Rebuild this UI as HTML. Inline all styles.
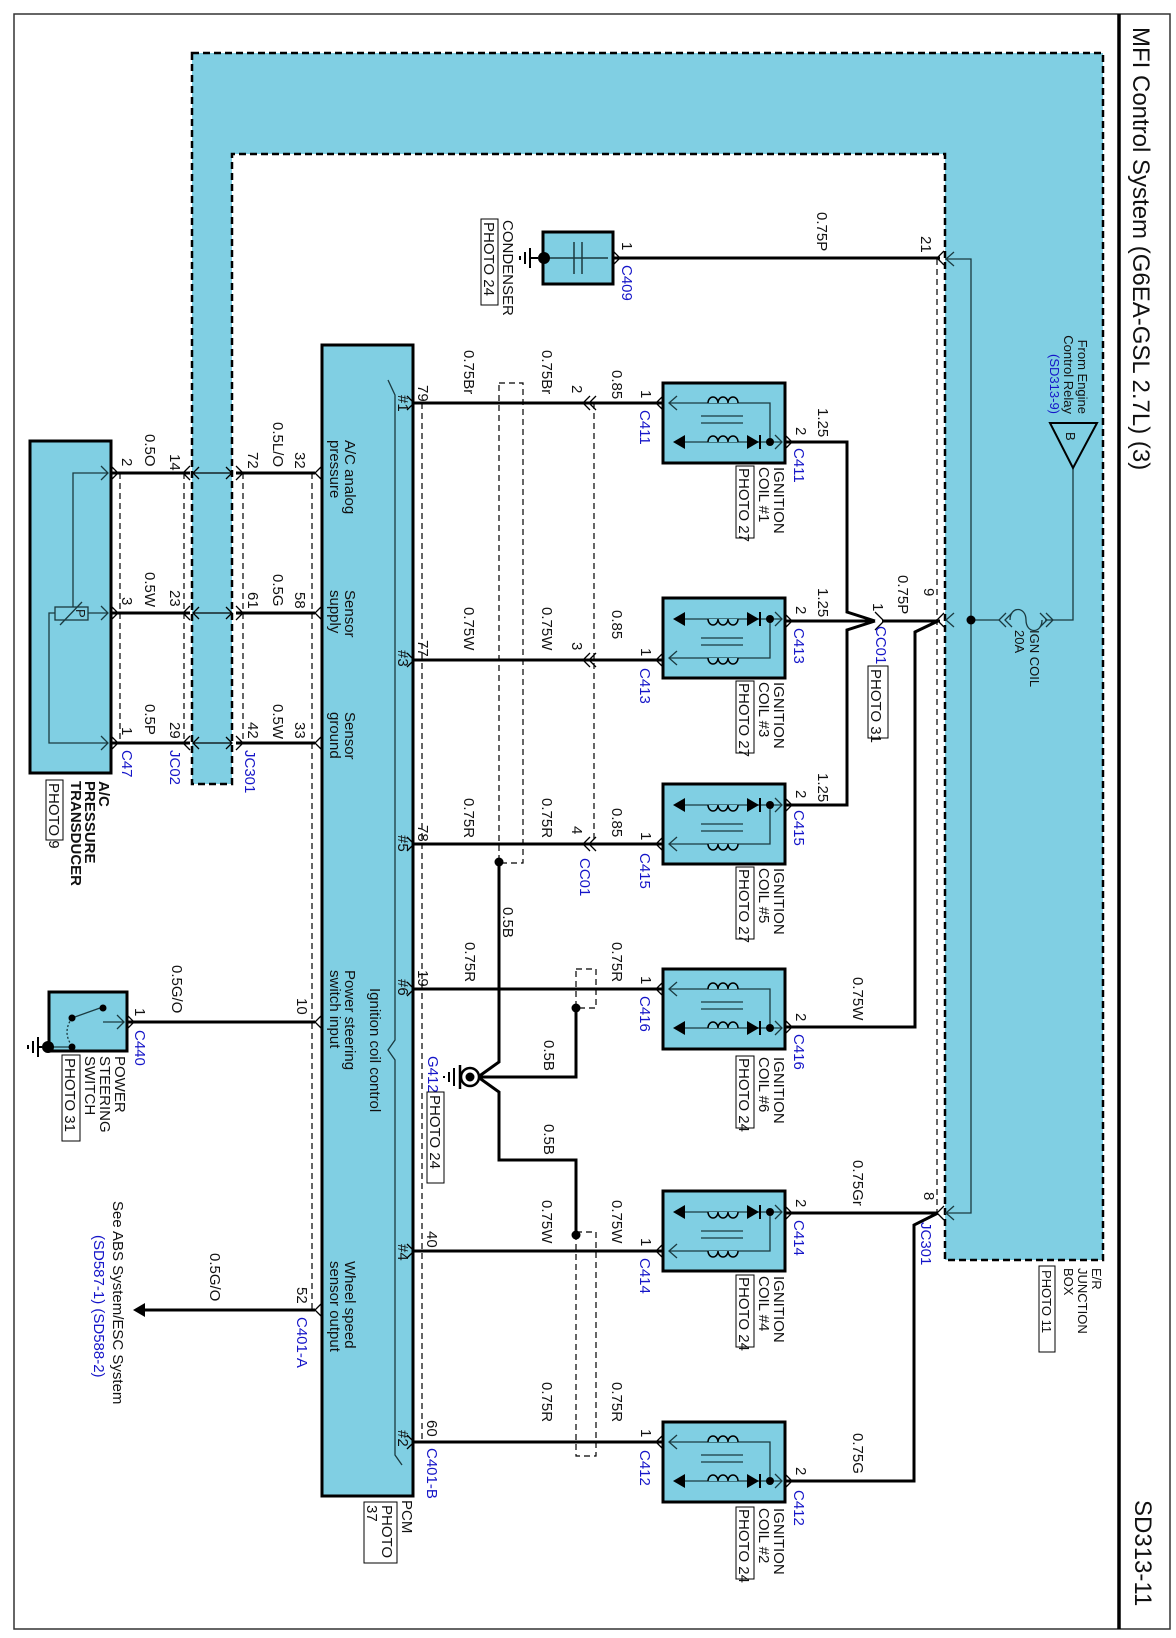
<!DOCTYPE html>
<html><head><meta charset="utf-8"><style>
html,body{margin:0;padding:0;background:#fff}
svg{display:block}
text{font-family:"Liberation Sans",Arial,sans-serif;font-size:15px;fill:#111}
.b{fill:#1515c8}
.s{font-size:13px}
.t{font-size:24px}
.bd{font-weight:bold}
</style></head><body>
<svg width="1176" height="1638" viewBox="0 0 1176 1638" xmlns="http://www.w3.org/2000/svg">
<defs>
<g id="coil">
<rect x="0" y="0" width="122" height="80" fill="#80cfe3" stroke="#000" stroke-width="3"/>
<g fill="none" stroke="#1a3a40" stroke-width="1.3">
<path d="M6 20 H107 V59"/>
<path d="M18 59 H118"/>
<path d="M38 33 H80 M38 40 H80"/>
<path d="M14 13 L6 20 L14 27"/>
<path d="M112 52 L119 59 L112 66"/>
</g>
<g fill="#80cfe3" stroke="#000" stroke-width="1.5">
<path d="M45 20 a5 6 0 0 1 10 0 a5 6 0 0 1 10 0 a5 6 0 0 1 10 0"/>
<path d="M45 59 a5 6 0 0 1 10 0 a5 6 0 0 1 10 0 a5 6 0 0 1 10 0"/>
</g>
<path d="M10 59 L22 52 L22 66 Z" fill="#000"/>
<path d="M84 52 L96 59 L84 66 Z" fill="#000"/>
<path d="M97 52 V66" stroke="#000" stroke-width="2"/>
<circle cx="107" cy="59" r="4" fill="#000"/>
</g>
</defs>

<rect x="14" y="14" width="1156" height="1615" fill="none" stroke="#333" stroke-width="1.5"/>
<line x1="1119" y1="14" x2="1119" y2="1629" stroke="#000" stroke-width="3.5"/>
<text class="t" transform="translate(1133 27) rotate(90)">MFI Control System (G6EA-GSL 2.7L) (3)</text>
<text class="t" transform="translate(1135 1500) rotate(90)">SD313-11</text>

<path d="M192 53 H1103 V1260 H945 V154 H232 V784 H192 Z" fill="#80cfe3" stroke="#000" stroke-width="2.5" stroke-dasharray="7 4"/>
<g fill="none" stroke="#1a3a40" stroke-width="1.3">
<path d="M945 259 H971 V1213 H945"/>
<path d="M971 620 H1000 M1045 620 H1073 V468"/>
<path d="M1010 620 c0 -14 16 -14 16 0 c0 14 16 14 16 0"/>
<path d="M1006 613 L999 620 L1006 627 M1012 613 L1005 620 L1012 627 M1040 613 L1047 620 L1040 627 M1046 613 L1053 620 L1046 627"/>
<path d="M954 252 L946 259 L954 266 M954 613 L946 620 L954 627 M954 1206 L946 1213 L954 1220"/>
</g>
<circle cx="971" cy="620" r="4.5" fill="#000"/>
<path d="M1050 423 H1097 L1073 468 Z" fill="none" stroke="#000" stroke-width="2"/>
<text class="s" transform="translate(1066 432) rotate(90)">B</text>
<text class="s" text-anchor="end" transform="translate(1078 414) rotate(90)">From Engine</text>
<text class="s" text-anchor="end" transform="translate(1064 414) rotate(90)">Control Relay</text>
<text class="s b" text-anchor="end" transform="translate(1050 414) rotate(90)">(SD313-9)</text>
<text class="s" transform="translate(1030 630) rotate(90)">IGN COIL</text>
<text class="s" transform="translate(1015 630) rotate(90)">20A</text>
<text class="s" transform="translate(1092 1268) rotate(90)">E/R</text>
<text class="s" transform="translate(1078 1268) rotate(90)">JUNCTION</text>
<text class="s" transform="translate(1064 1268) rotate(90)">BOX</text>
<rect x="1039" y="1266" width="16" height="86" fill="none" stroke="#000"/>
<text class="s" transform="translate(1042 1270) rotate(90)">PHOTO 11</text>

<g fill="none" stroke="#000" stroke-width="1.2" stroke-dasharray="6 4">
<path d="M937 259 V1213"/>
<path d="M422 403 V1441"/>
<path d="M594 403 V844"/>
<path d="M120 473 V743 M184 473 V743 M243 473 V743 M312 473 V1310"/>
<rect x="499" y="383" width="24" height="480"/>
<rect x="576" y="969" width="20" height="39"/>
<rect x="576" y="1232" width="20" height="224"/>
</g>

<rect x="322" y="345" width="91" height="1151" fill="#80cfe3" stroke="#000" stroke-width="3"/>
<path d="M388 380 L395 395 V1040 L388 1050 L395 1060 V1455 L402 1465" fill="none" stroke="#1a3a40" stroke-width="1.3"/>
<text transform="translate(402 1500) rotate(90)">PCM</text>
<rect x="364" y="1502" width="33" height="61" fill="none" stroke="#000"/>
<text transform="translate(382 1505) rotate(90)">PHOTO</text>
<text transform="translate(367 1505) rotate(90)">37</text>
<text transform="translate(345 440) rotate(90)">A/C analog</text>
<text transform="translate(330 440) rotate(90)">pressure</text>
<text transform="translate(345 590) rotate(90)">Sensor</text>
<text transform="translate(330 590) rotate(90)">supply</text>
<text transform="translate(345 712) rotate(90)">Sensor</text>
<text transform="translate(330 712) rotate(90)">ground</text>
<text transform="translate(370 988) rotate(90)">Ignition coil control</text>
<text transform="translate(345 970) rotate(90)">Power steering</text>
<text transform="translate(330 970) rotate(90)">switch input</text>
<text transform="translate(345 1261) rotate(90)">Wheel speed</text>
<text transform="translate(330 1261) rotate(90)">sensor output</text>
<text transform="translate(398 395) rotate(90)">#1</text>
<text transform="translate(398 650) rotate(90)">#3</text>
<text transform="translate(398 835) rotate(90)">#5</text>
<text transform="translate(398 979) rotate(90)">#6</text>
<text transform="translate(398 1244) rotate(90)">#4</text>
<text transform="translate(398 1430) rotate(90)">#2</text>

<g fill="none" stroke="#000" stroke-width="3">
<path d="M613 258 H940"/>
<path d="M413 403 H663 M413 660 H663 M413 844 H663 M413 989 H663 M413 1251 H663 M413 1442 H663"/>
<path d="M785 442 H847 V612 L875 621 M785 621 H875 M785 805 H847 V630 L875 621"/>
<path d="M882 621 H940"/>
<path d="M785 1027 H915 V632 L938 621"/>
<path d="M785 1213 H938"/>
<path d="M785 1481 H914 V1225 L938 1213"/>
<path d="M111 473 H190 M236 473 H315 M111 613 H190 M236 613 H315 M111 743 H190 M236 743 H315"/>
<path d="M127 1022 H315"/>
<path d="M140 1310 H315"/>
<path d="M499 862 V1062 L478 1077 M576 1008 V1077 H478 M478 1077 L499 1092 V1160 H576 V1235"/>
</g>
<g fill="none" stroke="#000" stroke-width="1.3">
<path d="M407 396 L414 403 L407 410 M407 653 L414 660 L407 667 M407 837 L414 844 L407 851 M407 982 L414 989 L407 996 M407 1244 L414 1251 L407 1258 M407 1435 L414 1442 L407 1449"/>
<path d="M590 396 L583 403 L590 410 M596 396 L589 403 L596 410 M590 653 L583 660 L590 667 M596 653 L589 660 L596 667 M590 837 L583 844 L590 851 M596 837 L589 844 L596 851"/>
<path d="M663 396 L656 403 L663 410 M663 653 L656 660 L663 667 M663 837 L656 844 L663 851 M663 982 L656 989 L663 996 M663 1244 L656 1251 L663 1258 M663 1435 L656 1442 L663 1449"/>
<path d="M785 435 L792 442 L785 449 M785 614 L792 621 L785 628 M785 798 L792 805 L785 812 M785 1020 L792 1027 L785 1034 M785 1206 L792 1213 L785 1220 M785 1474 L792 1481 L785 1488"/>
<path d="M875 612 L884 621 L875 630 M944 251 L937 258 L944 265 M944 613 L937 620 L944 627 M944 1206 L937 1213 L944 1220"/>
<path d="M613 251 L620 258 L613 265"/>
<path d="M322 466 L315 473 L322 480 M322 606 L315 613 L322 620 M322 736 L315 743 L322 750 M322 1015 L315 1022 L322 1029 M322 1303 L315 1310 L322 1317"/>
<path d="M111 466 L118 473 L111 480 M111 606 L118 613 L111 620 M111 736 L118 743 L111 750 M127 1015 L134 1022 L127 1029"/>
<path d="M190 466 L183 473 L190 480 M190 606 L183 613 L190 620 M190 736 L183 743 L190 750 M236 466 L243 473 L236 480 M236 606 L243 613 L236 620 M236 736 L243 743 L236 750"/>
<path d="M193 473 H232 M199 467 L193 473 L199 479 M226 467 L232 473 L226 479 M193 613 H232 M199 607 L193 613 L199 619 M226 607 L232 613 L226 619 M193 743 H232 M199 737 L193 743 L199 749 M226 737 L232 743 L226 749"/>
</g>
<path d="M133 1310 L145 1303 L145 1317 Z" fill="#000"/>

<use href="#coil" x="663" y="383"/>
<use href="#coil" transform="translate(663 678) scale(1 -1)"/>
<use href="#coil" transform="translate(663 864) scale(1 -1)"/>
<use href="#coil" x="663" y="969"/>
<use href="#coil" transform="translate(663 1271) scale(1 -1)"/>
<use href="#coil" x="663" y="1422"/>

<g>
<text transform="translate(774 467) rotate(90)">IGNITION</text><text transform="translate(759 467) rotate(90)">COIL #1</text><rect x="736" y="466" width="18" height="72" fill="none" stroke="#000"/><text transform="translate(739 468) rotate(90)">PHOTO 27</text>
<text transform="translate(774 682) rotate(90)">IGNITION</text><text transform="translate(759 682) rotate(90)">COIL #3</text><rect x="736" y="681" width="18" height="72" fill="none" stroke="#000"/><text transform="translate(739 683) rotate(90)">PHOTO 27</text>
<text transform="translate(774 868) rotate(90)">IGNITION</text><text transform="translate(759 868) rotate(90)">COIL #5</text><rect x="736" y="867" width="18" height="72" fill="none" stroke="#000"/><text transform="translate(739 869) rotate(90)">PHOTO 27</text>
<text transform="translate(774 1057) rotate(90)">IGNITION</text><text transform="translate(759 1057) rotate(90)">COIL #6</text><rect x="736" y="1056" width="18" height="72" fill="none" stroke="#000"/><text transform="translate(739 1058) rotate(90)">PHOTO 24</text>
<text transform="translate(774 1276) rotate(90)">IGNITION</text><text transform="translate(759 1276) rotate(90)">COIL #4</text><rect x="736" y="1275" width="18" height="72" fill="none" stroke="#000"/><text transform="translate(739 1277) rotate(90)">PHOTO 24</text>
<text transform="translate(774 1508) rotate(90)">IGNITION</text><text transform="translate(759 1508) rotate(90)">COIL #2</text><rect x="736" y="1507" width="18" height="72" fill="none" stroke="#000"/><text transform="translate(739 1509) rotate(90)">PHOTO 24</text>
</g>
<g>
<text transform="translate(641 390) rotate(90)">1</text><text class="b" transform="translate(640 410) rotate(90)">C411</text>
<text transform="translate(796 427) rotate(90)">2</text><text class="b" transform="translate(794 448) rotate(90)">C411</text>
<text transform="translate(641 648) rotate(90)">1</text><text class="b" transform="translate(640 668) rotate(90)">C413</text>
<text transform="translate(796 606) rotate(90)">2</text><text class="b" transform="translate(794 628) rotate(90)">C413</text>
<text transform="translate(641 832) rotate(90)">1</text><text class="b" transform="translate(640 853) rotate(90)">C415</text>
<text transform="translate(796 790) rotate(90)">2</text><text class="b" transform="translate(794 810) rotate(90)">C415</text>
<text transform="translate(641 976) rotate(90)">1</text><text class="b" transform="translate(640 996) rotate(90)">C416</text>
<text transform="translate(796 1013) rotate(90)">2</text><text class="b" transform="translate(794 1034) rotate(90)">C416</text>
<text transform="translate(641 1238) rotate(90)">1</text><text class="b" transform="translate(640 1258) rotate(90)">C414</text>
<text transform="translate(796 1199) rotate(90)">2</text><text class="b" transform="translate(794 1220) rotate(90)">C414</text>
<text transform="translate(641 1429) rotate(90)">1</text><text class="b" transform="translate(640 1450) rotate(90)">C412</text>
<text transform="translate(796 1467) rotate(90)">2</text><text class="b" transform="translate(794 1490) rotate(90)">C412</text>
</g>
<g>
<text transform="translate(612 370) rotate(90)">0.85</text>
<text transform="translate(612 610) rotate(90)">0.85</text>
<text transform="translate(612 808) rotate(90)">0.85</text>
<text transform="translate(612 942) rotate(90)">0.75R</text>
<text transform="translate(612 1200) rotate(90)">0.75W</text>
<text transform="translate(612 1382) rotate(90)">0.75R</text>
<text transform="translate(542 350) rotate(90)">0.75Br</text>
<text transform="translate(542 607) rotate(90)">0.75W</text>
<text transform="translate(542 798) rotate(90)">0.75R</text>
<text transform="translate(542 1200) rotate(90)">0.75W</text>
<text transform="translate(542 1382) rotate(90)">0.75R</text>
<text transform="translate(464 350) rotate(90)">0.75Br</text>
<text transform="translate(464 607) rotate(90)">0.75W</text>
<text transform="translate(464 798) rotate(90)">0.75R</text>
<text transform="translate(465 942) rotate(90)">0.75R</text>
<text transform="translate(503 907) rotate(90)">0.5B</text>
<text transform="translate(544 1040) rotate(90)">0.5B</text>
<text transform="translate(544 1124) rotate(90)">0.5B</text>
<text transform="translate(572 385) rotate(90)">2</text>
<text transform="translate(572 642) rotate(90)">3</text>
<text transform="translate(572 826) rotate(90)">4</text>
<text class="b" transform="translate(580 858) rotate(90)">CC01</text>
<text transform="translate(418 385) rotate(90)">79</text>
<text transform="translate(418 640) rotate(90)">77</text>
<text transform="translate(418 825) rotate(90)">78</text>
<text transform="translate(418 970) rotate(90)">19</text>
<text transform="translate(427 1231) rotate(90)">40</text>
<text transform="translate(427 1420) rotate(90)">60</text>
<text class="b" transform="translate(427 1448) rotate(90)">C401-B</text>
<text transform="translate(818 408) rotate(90)">1.25</text>
<text transform="translate(818 588) rotate(90)">1.25</text>
<text transform="translate(818 773) rotate(90)">1.25</text>
<text transform="translate(853 977) rotate(90)">0.75W</text>
<text transform="translate(853 1160) rotate(90)">0.75Gr</text>
<text transform="translate(853 1433) rotate(90)">0.75G</text>
<text transform="translate(898 575) rotate(90)">0.75P</text>
<text transform="translate(873 603) rotate(90)">1</text>
<text class="b" transform="translate(876 626) rotate(90)">CC01</text>
<rect x="868" y="666" width="20" height="72" fill="none" stroke="#000"/>
<text transform="translate(871 669) rotate(90)">PHOTO 31</text>
<text transform="translate(924 588) rotate(90)">9</text>
<text transform="translate(924 1192) rotate(90)">8</text>
<text class="b" transform="translate(921 1222) rotate(90)">JC301</text>
<text transform="translate(921 236) rotate(90)">21</text>
<text transform="translate(817 212) rotate(90)">0.75P</text>
<text transform="translate(622 242) rotate(90)">1</text>
<text class="b" transform="translate(622 265) rotate(90)">C409</text>
</g>

<rect x="543" y="232" width="70" height="52" fill="#80cfe3" stroke="#000" stroke-width="3"/>
<path d="M548 258 H608 M574 242 V274 M582 242 V274" stroke="#1a3a40" stroke-width="1.5" fill="none"/>
<circle cx="544" cy="258" r="6" fill="#000"/>
<path d="M538 258 H530 M530 248 V268 M525 252 V264 M520 256 V260" stroke="#000" stroke-width="2"/>
<text transform="translate(503 220) rotate(90)">CONDENSER</text>
<rect x="481" y="219" width="17" height="86" fill="none" stroke="#000"/>
<text transform="translate(484 222) rotate(90)">PHOTO 24</text>

<circle cx="470" cy="1077" r="9" fill="#fff" stroke="#000" stroke-width="2.5"/>
<circle cx="470" cy="1077" r="4.5" fill="#000"/>
<path d="M460 1065 V1089" stroke="#000" stroke-width="2.5"/>
<path d="M454 1068 V1086 M449 1072 V1082 M444 1076 V1078" stroke="#000" stroke-width="2"/>
<circle cx="499" cy="862" r="4.5" fill="#000"/>
<circle cx="576" cy="1008" r="4.5" fill="#000"/>
<circle cx="576" cy="1235" r="4.5" fill="#000"/>
<text class="b" transform="translate(428 1056) rotate(90)">G412</text>
<rect x="427" y="1092" width="17" height="91" fill="none" stroke="#000"/>
<text transform="translate(430 1095) rotate(90)">PHOTO 24</text>

<rect x="30" y="441" width="81" height="332" fill="#80cfe3" stroke="#000" stroke-width="3"/>
<g fill="none" stroke="#1a3a40" stroke-width="1.3">
<path d="M108 473 H73 V607 M88 613 H108 M55 613 H49 V743 H108"/>
<rect x="55" y="607" width="33" height="13"/>
<path d="M60 625 L82 602"/>
<path d="M101 466 L108 473 L101 480 M101 606 L108 613 L101 620 M101 736 L108 743 L101 750"/>
</g>
<text class="s" transform="translate(76 609) rotate(90)">P</text>
<text class="bd" transform="translate(99 781) rotate(90)">A/C</text>
<text class="bd" transform="translate(85 781) rotate(90)">PRESSURE</text>
<text class="bd" transform="translate(71 781) rotate(90)">TRANSDUCER</text>
<rect x="46" y="780" width="17" height="60" fill="none" stroke="#000"/>
<text transform="translate(49 783) rotate(90)">PHOTO 9</text>
<g>
<text transform="translate(145 434) rotate(90)">0.5O</text><text transform="translate(122 458) rotate(90)">2</text><text transform="translate(170 454) rotate(90)">14</text><text transform="translate(273 422) rotate(90)">0.5L/O</text><text transform="translate(248 452) rotate(90)">72</text><text transform="translate(295 452) rotate(90)">32</text>
<text transform="translate(145 572) rotate(90)">0.5W</text><text transform="translate(122 597) rotate(90)">3</text><text transform="translate(170 590) rotate(90)">23</text><text transform="translate(273 574) rotate(90)">0.5G</text><text transform="translate(248 592) rotate(90)">61</text><text transform="translate(295 592) rotate(90)">58</text>
<text transform="translate(145 704) rotate(90)">0.5P</text><text transform="translate(122 727) rotate(90)">1</text><text transform="translate(170 722) rotate(90)">29</text><text transform="translate(273 704) rotate(90)">0.5W</text><text transform="translate(248 722) rotate(90)">42</text><text transform="translate(295 722) rotate(90)">33</text>
<text class="b" transform="translate(122 750) rotate(90)">C47</text><text class="b" transform="translate(170 750) rotate(90)">JC02</text><text class="b" transform="translate(245 750) rotate(90)">JC301</text>
</g>

<rect x="49" y="992" width="78" height="59" fill="#80cfe3" stroke="#000" stroke-width="3"/>
<g fill="none" stroke="#1a3a40" stroke-width="1.3">
<path d="M103 1022 H124 M117 1015 L124 1022 L117 1029"/>
<path d="M72 1018 L100 1008"/>
<path d="M72 1018 Q62 1032 72 1046" stroke-dasharray="2 2"/>
<path d="M48 1047 H72"/>
</g>
<circle cx="72" cy="1018" r="3.5" fill="#000"/><circle cx="103" cy="1008" r="3.5" fill="#000"/><circle cx="72" cy="1047" r="3.5" fill="#000"/>
<circle cx="48" cy="1047" r="6" fill="#000"/>
<path d="M42 1047 H38 M38 1037 V1057 M33 1041 V1053 M28 1045 V1049" stroke="#000" stroke-width="2"/>
<text transform="translate(135 1008) rotate(90)">1</text>
<text class="b" transform="translate(135 1030) rotate(90)">C440</text>
<text transform="translate(172 965) rotate(90)">0.5G/O</text>
<text transform="translate(297 998) rotate(90)">10</text>
<text transform="translate(115 1056) rotate(90)">POWER</text>
<text transform="translate(100 1056) rotate(90)">STEERING</text>
<text transform="translate(85 1056) rotate(90)">SWITCH</text>
<rect x="62" y="1055" width="18" height="86" fill="none" stroke="#000"/>
<text transform="translate(65 1058) rotate(90)">PHOTO 31</text>

<text transform="translate(210 1253) rotate(90)">0.5G/O</text>
<text transform="translate(297 1287) rotate(90)">52</text>
<text class="b" transform="translate(297 1317) rotate(90)">C401-A</text>
<text transform="translate(113 1201) rotate(90)">See ABS System/ESC System</text>
<text class="b" transform="translate(94 1235) rotate(90)">(SD587-1) (SD588-2)</text>
</svg>
</body></html>
